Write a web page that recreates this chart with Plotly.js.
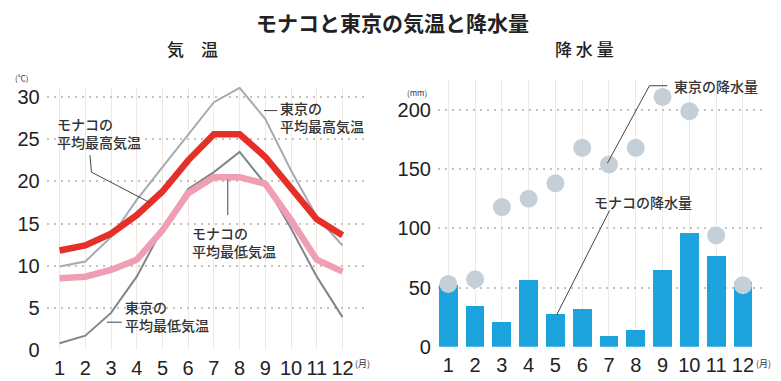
<!DOCTYPE html>
<html>
<head>
<meta charset="utf-8">
<script src="https://cdn.plot.ly/plotly-3.0.1.min.js"></script>
<style>html,body{margin:0;padding:0;background:#fff;}#chart{width:781px;height:381px;}</style>
</head>
<body>
<div id="chart"></div>
<script>
// ---- data ----
const months = [1,2,3,4,5,6,7,8,9,10,11,12];
const monthLabels = ["1","2","3","4","5","6","7","8","9","10","11","12"];
const monacoMaxTemp = [11.8,12.4,13.8,16.0,18.8,22.5,25.6,25.6,22.9,19.3,15.5,13.6];
const monacoMinTemp = [8.5,8.7,9.5,10.7,14.2,18.6,20.5,20.5,19.7,15.4,10.7,9.3];
const tokyoMaxTemp = [9.9,10.5,13.4,17.8,21.7,25.5,29.4,31.1,27.4,21.3,15.8,12.4];
const tokyoMinTemp = [0.8,1.7,4.4,8.7,14.4,19.1,21.1,23.5,19.7,14.4,8.7,3.9];
const monacoPrecip = [52,34,21,56,28,32,9,14,65,96,77,55];
const tokyoPrecip = [53,57,118,125,138,168,154,168,211,199,94,52];
const tempTicks = [0,5,10,15,20,25,30];
const precipTicks = [0,50,100,150,200];

const numFont = {family:"Liberation Sans, Arial, sans-serif", size:20, color:"#222"};
const jp = "Noto Sans CJK JP, sans-serif";
const gridDot = "#c9c2bb";
const gridV = "#f1e9e1";

const traces = [
  {x:months, y:tokyoMaxTemp, type:"scatter", mode:"lines", xaxis:"x", yaxis:"y",
   line:{color:"#a5acb1", width:2}, hoverinfo:"skip"},
  {x:months, y:tokyoMinTemp, type:"scatter", mode:"lines", xaxis:"x", yaxis:"y",
   line:{color:"#80868b", width:2}, hoverinfo:"skip"},
  {x:months, y:monacoMinTemp, type:"scatter", mode:"lines", xaxis:"x", yaxis:"y",
   line:{color:"#f09eb3", width:6.5}, hoverinfo:"skip"},
  {x:months, y:monacoMaxTemp, type:"scatter", mode:"lines", xaxis:"x", yaxis:"y",
   line:{color:"#e5302a", width:6.5}, hoverinfo:"skip"},
  {x:months, y:monacoPrecip, type:"bar", xaxis:"x2", yaxis:"y2", width:0.7,
   marker:{color:"#1ca3de"}, hoverinfo:"skip"},
  {x:months, y:tokyoPrecip, type:"scatter", mode:"markers", xaxis:"x2", yaxis:"y2",
   marker:{color:"#c4cfd7", size:18}, hoverinfo:"skip"}
];

const ann = (x,y,text,opts) => Object.assign({x:x, y:y, text:text, showarrow:false,
  xanchor:"left", yanchor:"middle", align:"left",
  font:{family:jp, size:14, weight:500, color:"#333"}}, opts||{});

const layout = {
  width:781, height:381,
  margin:{l:0,r:0,t:0,b:0},
  paper_bgcolor:"#fff", plot_bgcolor:"#fff",
  showlegend:false,
  bargap:0,
  xaxis:{domain:[0.0598,0.4695], range:[0.5,12.94], tickvals:months, ticktext:monthLabels,
    showgrid:true, gridcolor:gridV, gridwidth:1, zeroline:false, showline:false,
    ticks:"", tickfont:numFont, ticklabelstandoff:4, fixedrange:true},
  yaxis:{domain:[0.0814,0.7717], range:[0,31.2], tickvals:tempTicks,
    showgrid:true, gridcolor:gridDot, gridwidth:2, griddash:"2px,5px", zeroline:false,
    showline:false, ticks:"", tickfont:numFont, ticklabelstandoff:6, fixedrange:true},
  xaxis2:{domain:[0.5608,0.9821], range:[0.615,12.9], tickvals:months, ticktext:monthLabels,
    anchor:"y2", showgrid:true, gridcolor:gridV, gridwidth:1, zeroline:false, showline:false,
    ticks:"", tickfont:numFont, ticklabelstandoff:4, fixedrange:true},
  yaxis2:{domain:[0.09,0.789], range:[0,225], tickvals:precipTicks, anchor:"x2",
    showgrid:true, gridcolor:gridDot, gridwidth:2, griddash:"2px,5px", zeroline:false,
    showline:false, ticks:"", tickfont:numFont, ticklabelstandoff:6, fixedrange:true},
  shapes:[
    {type:"path", xref:"x", yref:"y", path:"M 2.18 23.1 L 2.24 21.1 L 4.5 17.5",
     line:{color:"#444", width:1}},
    {type:"line", xref:"x", yref:"y", x0:8.95, y0:28.4, x1:9.47, y1:28.4,
     line:{color:"#444", width:1}},
    {type:"line", xref:"x", yref:"y", x0:7.54, y0:20.2, x1:7.54, y1:16.0,
     line:{color:"#444", width:1}},
    {type:"line", xref:"x", yref:"y", x0:2.84, y0:3.3, x1:3.42, y1:3.3,
     line:{color:"#444", width:1}},
    {type:"path", xref:"x2", yref:"y2", path:"M 9.18 220.5 L 8.51 220.5 L 6.94 155",
     line:{color:"#444", width:1}},
    {type:"line", xref:"x2", yref:"y2", x0:7.02, y0:115, x1:5.05, y1:27,
     line:{color:"#444", width:1}}
  ],
  annotations:[
    {xref:"paper", yref:"paper", x:0.503, y:0.943, text:"<b>モナコと東京の気温と降水量</b>",
     showarrow:false, xanchor:"center", yanchor:"middle",
     font:{family:jp, size:21, color:"#222"}},
    {xref:"paper", yref:"paper", x:0.246, y:0.874, text:"気　温", showarrow:false,
     xanchor:"center", yanchor:"middle", font:{family:jp, size:17, weight:500, color:"#222"}},
    {xref:"paper", yref:"paper", x:0.748, y:0.874, text:"降 水 量", showarrow:false,
     xanchor:"center", yanchor:"middle", font:{family:jp, size:17, weight:500, color:"#222"}},
    {xref:"paper", yref:"paper", x:0.028, y:0.797, text:"(℃)", showarrow:false,
     xanchor:"center", yanchor:"middle", font:{family:jp, size:8, color:"#333"}},
    {xref:"paper", yref:"paper", x:0.534, y:0.758, text:"(mm)", showarrow:false,
     xanchor:"center", yanchor:"middle", font:{family:jp, size:8, color:"#333"}},
    {xref:"paper", yref:"paper", x:0.4645, y:0.045, text:"(月)", showarrow:false,
     xanchor:"center", yanchor:"middle", font:{family:jp, size:9, color:"#333"}},
    {xref:"paper", yref:"paper", x:0.978, y:0.047, text:"(月)", showarrow:false,
     xanchor:"center", yanchor:"middle", font:{family:jp, size:9, color:"#333"}},
    ann(0.82, 25.7, "モナコの<br>平均最高気温", {xref:"x", yref:"y"}),
    ann(9.49, 27.6, "東京の<br>平均最高気温", {xref:"x", yref:"y"}),
    ann(6.07, 12.8, "モナコの<br>平均最低気温", {xref:"x", yref:"y"}),
    ann(3.46, 4.0, "東京の<br>平均最低気温", {xref:"x", yref:"y"}),
    ann(9.36, 220.5, "東京の降水量", {xref:"x2", yref:"y2"}),
    ann(6.35, 122, "モナコの降水量", {xref:"x2", yref:"y2"})
  ]
};

Plotly.newPlot("chart", traces, layout, {displayModeBar:false, staticPlot:true});
</script>
</body>
</html>
